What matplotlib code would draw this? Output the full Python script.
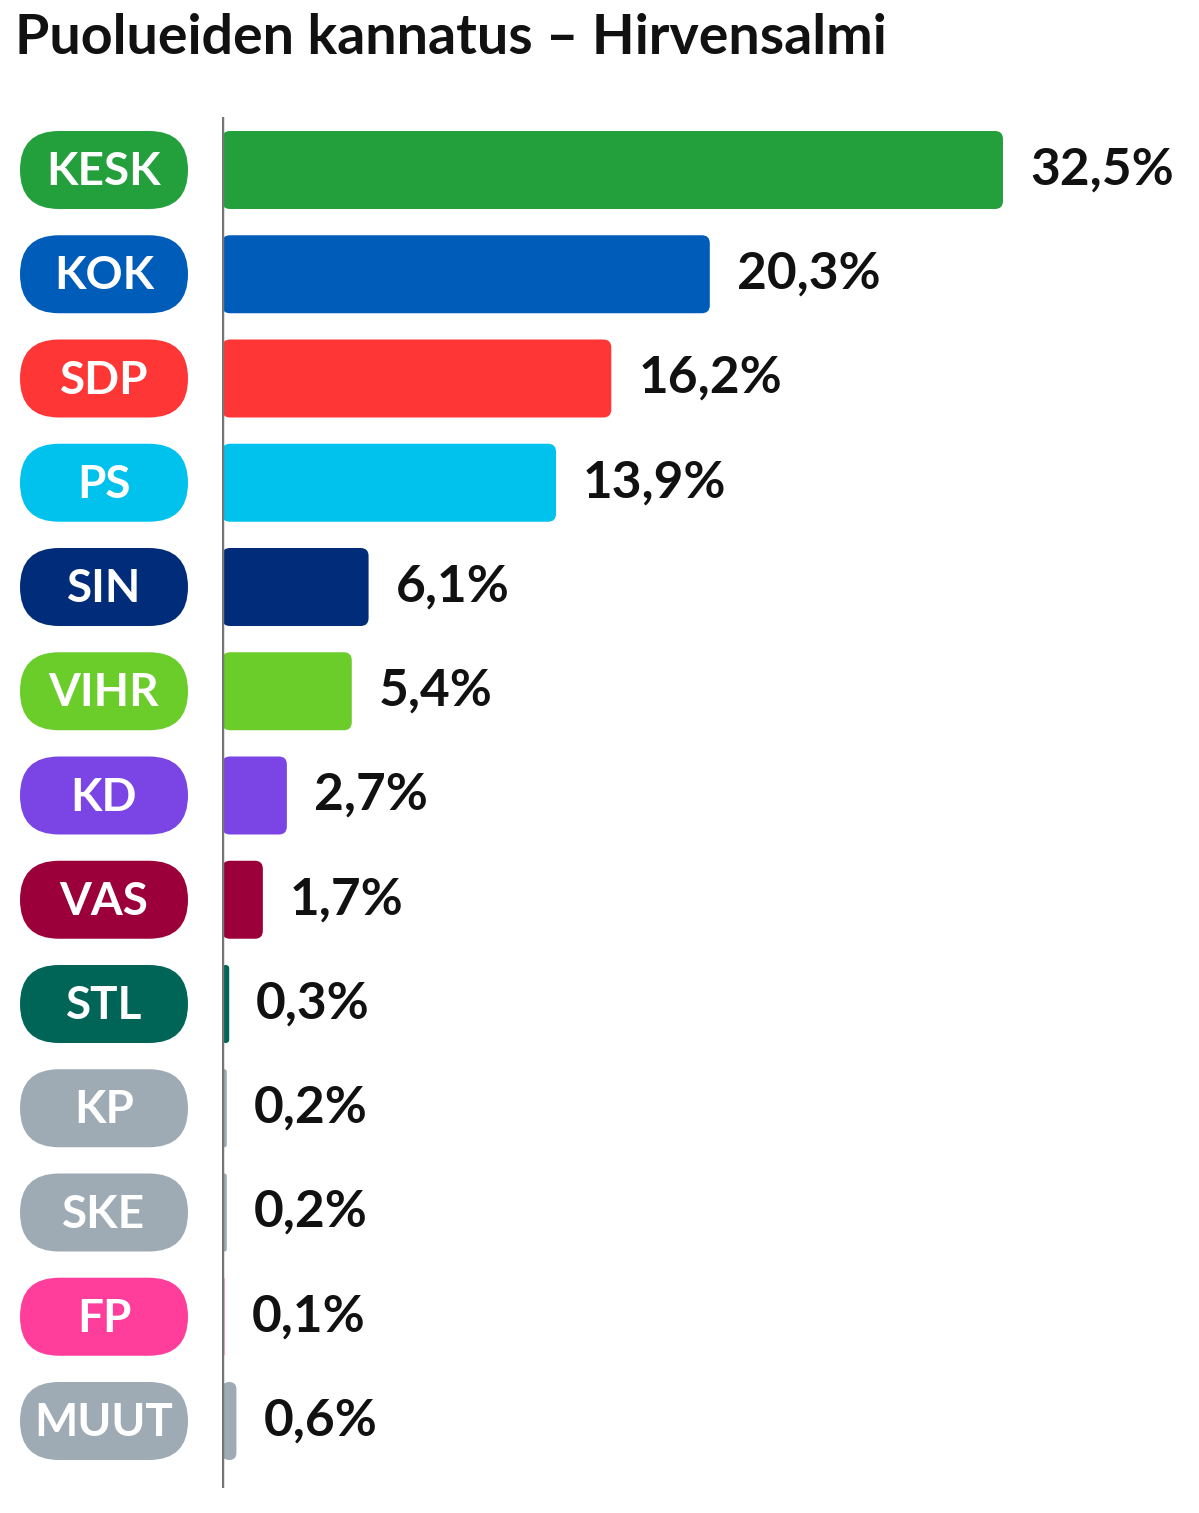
import matplotlib.pyplot as plt
from matplotlib.patches import FancyBboxPatch

parties = ["KESK", "KOK", "SDP", "PS", "SIN", "VIHR", "KD", "VAS", "STL", "KP", "SKE", "FP", "MUUT"]
values = [32.5, 20.3, 16.2, 13.9, 6.1, 5.4, 2.7, 1.7, 0.3, 0.2, 0.2, 0.1, 0.6]
colors = ["#23a03c", "#005cb9", "#ff3636", "#00c2ed", "#002c7a", "#6acd2a", "#7b45e6",
          "#9b003b", "#006557", "#9eabb4", "#9eabb4", "#ff3d9a", "#9eabb4"]
labels = ["32,5%", "20,3%", "16,2%", "13,9%", "6,1%", "5,4%", "2,7%", "1,7%",
          "0,3%", "0,2%", "0,2%", "0,1%", "0,6%"]

W, H = 1199, 1513
fig = plt.figure(figsize=(W / 100, H / 100), dpi=100)
plt.rcParams["font.family"] = "Lato"

px_x = 24.03     # pixels per percent
px_y = 104.25    # pixels per row
x0, ytop, ybot = 222, 117, 1488
ax = fig.add_axes([x0 / W, 1 - ybot / H, 1 - x0 / W, (ybot - ytop) / H])
ax.set_xlim(0, (W - x0) / px_x)
ax.set_ylim((ybot - 170) / px_y, (ytop - 170) / px_y)
ax.axis("off")
ax.axvline(0, color="#777777", lw=2.5, zorder=5)

aspect = px_x / px_y
bh = 78 / px_y
for i, (v, c, lab, p) in enumerate(zip(values, colors, labels, parties)):
    r = min(8 / px_x, v / 2)
    ax.add_patch(FancyBboxPatch((0, i - bh / 2), v, bh,
                                boxstyle=f"round,pad=0,rounding_size={r}",
                                mutation_aspect=aspect, fc=c, ec="none", zorder=3))
    ax.text(v + 27 / px_x, i, lab, va="center", ha="left", fontsize=37,
            fontweight="bold", color="#111111")
    # party pill
    left, right = (20 - x0) / px_x, (188 - x0) / px_x
    ax.add_patch(FancyBboxPatch((left, i - bh / 2), right - left, bh,
                                boxstyle=f"round,pad=0,rounding_size={39 / px_x}",
                                mutation_aspect=aspect, fc=c, ec="none",
                                clip_on=False, zorder=3))
    ax.text((left + right) / 2, i + 0.02, p, va="center", ha="center", fontsize=33,
            fontweight="bold", color="white", clip_on=False)

fig.text(15 / W, 1 - 38 / H, "Puolueiden kannatus – Hirvensalmi", fontsize=40,
         fontweight="bold", va="center", ha="left", color="#111111")

fig.savefig("out.png", dpi=100)
